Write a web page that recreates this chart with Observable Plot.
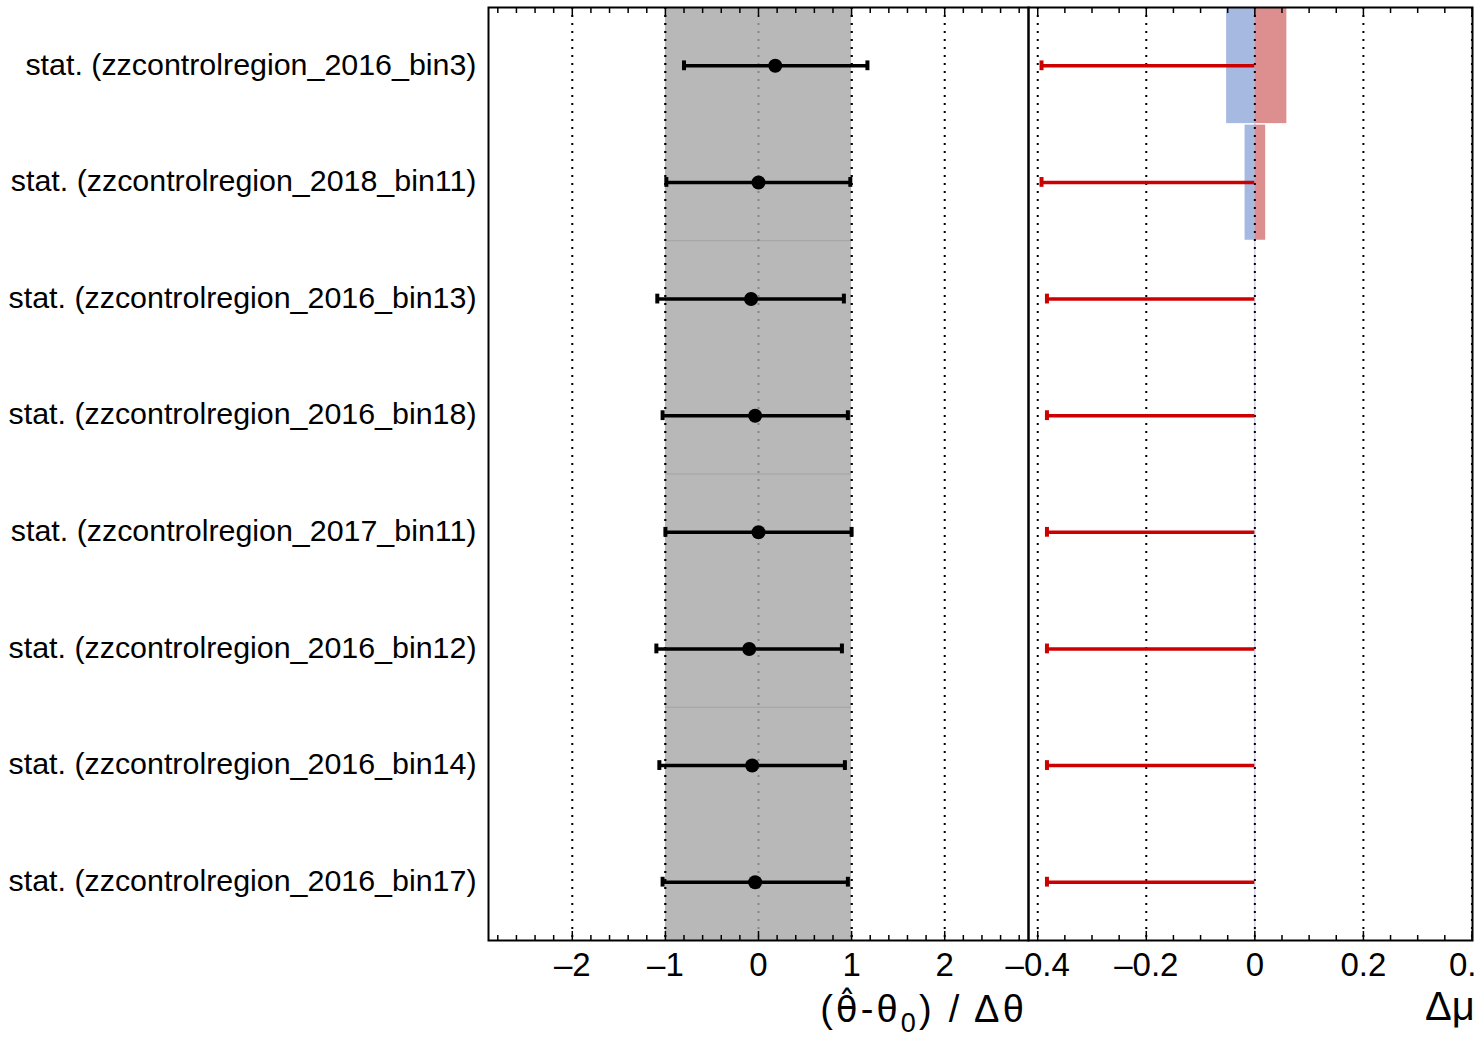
<!DOCTYPE html>
<html><head><meta charset="utf-8">
<script src="https://cdn.jsdelivr.net/npm/d3@7"></script>
<script src="https://cdn.jsdelivr.net/npm/@observablehq/plot@0.6"></script>
<style>
html,body{margin:0;padding:0;background:#fff;overflow:hidden}
#wrap{position:relative;width:1474px;height:1039px;overflow:hidden;font-family:"Liberation Sans",Arial,sans-serif}
#left,#right{position:absolute;top:0}
#left{left:0}
#right{left:1000px}
svg{overflow:visible}
</style></head><body>
<div id="wrap"><div id="left"></div><div id="right"></div></div>
<script>
const categories = [
  "stat. (zzcontrolregion_2016_bin3)",
  "stat. (zzcontrolregion_2018_bin11)",
  "stat. (zzcontrolregion_2016_bin13)",
  "stat. (zzcontrolregion_2016_bin18)",
  "stat. (zzcontrolregion_2017_bin11)",
  "stat. (zzcontrolregion_2016_bin12)",
  "stat. (zzcontrolregion_2016_bin14)",
  "stat. (zzcontrolregion_2016_bin17)"
];
const pullValues = [0.18, 0.0, -0.08, -0.036, 0.0, -0.10, -0.068, -0.036];
const pullLow    = [-0.80, -0.99, -1.087, -1.03, -1.0, -1.097, -1.065, -1.03];
const pullHigh   = [1.17, 0.986, 0.917, 0.96, 1.0, 0.896, 0.928, 0.96];
const muShift    = [-0.393, -0.393, -0.383, -0.383, -0.383, -0.383, -0.383, -0.383];
const impactDown = [-0.052, -0.018, 0, 0, 0, 0, 0, 0];
const impactUp   = [0.059, 0.020, 0, 0, 0, 0, 0, 0];
const sigmaBand  = [{lo: -1, hi: 1}];
const bandSegmentEdges = [1.5, 3.5, 5.5];
const pullTicks  = [-2, -1, 0, 1, 2];
const pullMinor  = [-2.8,-2.6,-2.4,-2.2,-1.8,-1.6,-1.4,-1.2,-0.8,-0.6,-0.4,-0.2,0.2,0.4,0.6,0.8,1.2,1.4,1.6,1.8,2.2,2.4,2.6,2.8];
const muTicks    = [-0.4, -0.2, 0, 0.2, 0.4];
const muMinor    = [-0.35,-0.3,-0.25,-0.15,-0.1,-0.05,0.05,0.1,0.15,0.25,0.3,0.35];

const rows = categories.map((name, i) => ({
  i, name, pull: pullValues[i], lo: pullLow[i], hi: pullHigh[i],
  shift: muShift[i], down: impactDown[i], up: impactUp[i]
}));

const FONT = '"Liberation Sans", Arial, sans-serif';
const CAP = 0.042;
const fmt = d => (d < 0 ? "\u2013" : "") + Math.abs(d);
const common = {
  height: 1039, marginTop: 7, marginBottom: 99,
  y: {domain: [-0.5, 7.5], reverse: true, axis: null},
  style: {fontFamily: FONT, color: "black", background: "transparent", overflow: "visible"}
};
const dotted = {stroke: "black", strokeOpacity: 1, strokeWidth: 2, strokeDasharray: "2,6"};
function frameTicks(major, minor) {
  return [
    Plot.axisX({anchor: "bottom", ticks: major, tickSize: -9, tickFormat: () => "", label: null, strokeWidth: 1.5}),
    Plot.axisX({anchor: "top", ticks: major, tickSize: -9, tickFormat: () => "", label: null, strokeWidth: 1.5}),
    Plot.axisX({anchor: "bottom", ticks: minor, tickSize: -5, tickFormat: () => "", label: null, strokeWidth: 1.5}),
    Plot.axisX({anchor: "top", ticks: minor, tickSize: -5, tickFormat: () => "", label: null, strokeWidth: 1.5}),
    Plot.axisX({anchor: "bottom", ticks: major, tickFormat: fmt, tickSize: 0, tickPadding: 12, fontSize: 33, label: null})
  ];
}

const left = Plot.plot({
  ...common, width: 1030, marginLeft: 488, marginRight: 2,
  x: {domain: [-2.9, 2.9]},
  marks: [
    Plot.gridX({ticks: pullTicks.filter(t => t !== 0), ...dotted}),
    Plot.rect(sigmaBand, {x1: "lo", x2: "hi", fill: "#b8b8b8"}),
    Plot.ruleY(bandSegmentEdges, {x1: -1, x2: 1, stroke: "#a2a2a2", strokeWidth: 1}),
    Plot.gridX({ticks: [0], ...dotted, stroke: "#858585"}),
    Plot.gridX({ticks: [-1, 1], ...dotted}),
    Plot.ruleY(rows, {y: "i", x1: "lo", x2: "hi", stroke: "black", strokeWidth: 3.5}),
    Plot.ruleX(rows, {x: "lo", y1: d => d.i - CAP, y2: d => d.i + CAP, stroke: "black", strokeWidth: 4}),
    Plot.ruleX(rows, {x: "hi", y1: d => d.i - CAP, y2: d => d.i + CAP, stroke: "black", strokeWidth: 4}),
    Plot.dot(rows, {x: "pull", y: "i", r: 7, fill: "black", stroke: null}),
    Plot.axisY({anchor: "left", ticks: d3.range(categories.length), tickFormat: i => categories[i], tickSize: 0, tickPadding: 12, fontSize: 30.4, dy: -1, label: null}),
    ...frameTicks(pullTicks, pullMinor),
    Plot.frame({stroke: "black", strokeWidth: 2})
  ]
});

const right = Plot.plot({
  ...common, width: 474, marginLeft: 28, marginRight: 2,
  x: {domain: [-0.417, 0.401]},
  marks: [
    Plot.rect(rows, {x1: 0, x2: "down", y1: d => d.i - 0.5, y2: d => d.i + 0.5, insetTop: 1, insetBottom: 0.5, fill: "#a6b9e0"}),
    Plot.rect(rows, {x1: 0, x2: "up", y1: d => d.i - 0.5, y2: d => d.i + 0.5, insetTop: 1, insetBottom: 0.5, fill: "#dd8e8f"}),
    Plot.ruleX([0], {stroke: "#a8a8e0", strokeWidth: 0.8}),
    Plot.gridX({ticks: muTicks, ...dotted}),
    Plot.ruleY(rows, {y: "i", x1: "shift", x2: 0, stroke: "#cc0000", strokeWidth: 3.5}),
    Plot.ruleX(rows, {x: "shift", y1: d => d.i - CAP, y2: d => d.i + CAP, stroke: "#cc0000", strokeWidth: 4}),
    ...frameTicks(muTicks, muMinor),
    Plot.frame({stroke: "black", strokeWidth: 2})
  ]
});

document.getElementById("left").appendChild(left);
document.getElementById("right").appendChild(right);

// axis titles
const lt = d3.select(left).append("text")
  .attr("x", 1027).attr("y", 1022).attr("text-anchor", "end")
  .attr("font-size", 38).attr("font-family", FONT).attr("fill", "black")
  .attr("letter-spacing", 3.2);
lt.append("tspan").text("(");
lt.append("tspan").attr("font-family", '"DejaVu Sans", sans-serif').attr("font-size", 35).text("\u03B8\u0302");
lt.append("tspan").text("-\u03B8");
lt.append("tspan").attr("dy", 10).attr("font-size", 27).text("0");
lt.append("tspan").attr("dy", -10).text(") / \u0394\u03B8");

d3.select(right).append("text")
  .attr("x", 425).attr("y", 1020).attr("text-anchor", "start")
  .attr("font-size", 40).attr("font-family", FONT).attr("fill", "black")
  .text("\u0394\u03BC");
</script>
</body></html>
